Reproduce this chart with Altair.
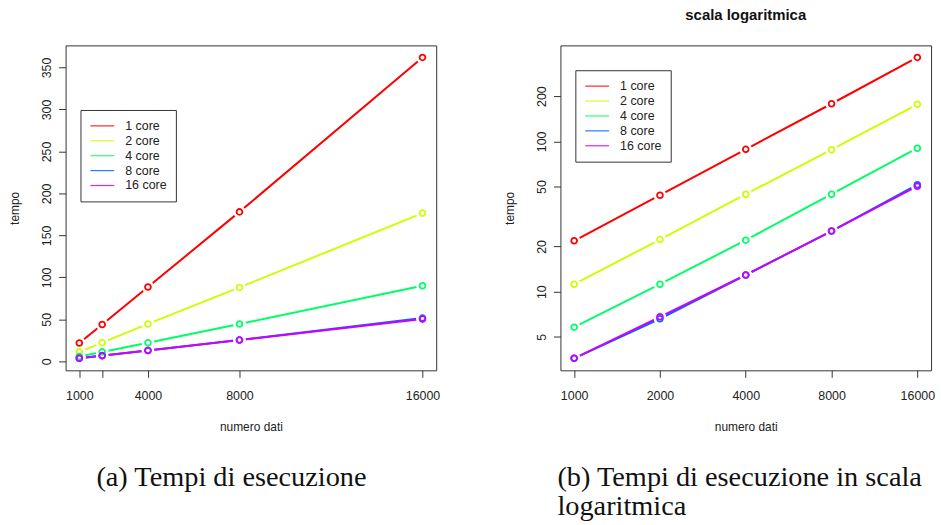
import math
import altair as alt
import pandas as pd

# ---- data ----
series = ["1 core", "2 core", "4 core", "8 core", "16 core"]
colors = ["#FF0000", "#CCFF00", "#00FF66", "#0066FF", "#CC00FF"]
n_dati = [1000, 2000, 4000, 8000, 16000]
t_1core = [21.8, 43.8, 88.5, 178.0, 362.0]
t_2core = [11.2, 22.2, 44.5, 88.0, 176.5]
t_4core = [5.8, 11.2, 22.0, 44.5, 90.0]
t_8core = [3.6, 6.6, 12.9, 25.3, 51.5]
t_16core = [3.6, 6.8, 12.9, 25.3, 50.3]

x_ticks = [1000, 2000, 4000, 8000, 16000]
y_ticks_lin = [0, 50, 100, 150, 200, 250, 300, 350]
y_ticks_log = [5, 10, 20, 50, 100, 200]

caption_a = "(a) Tempi di esecuzione"
caption_b = ["(b) Tempi di esecuzione in scala", "logaritmica"]
title_b = "scala logaritmica"

rows = []
for s, vals in zip(series, [t_1core, t_2core, t_4core, t_8core, t_16core]):
    for n, t in zip(n_dati, vals):
        rows.append({"serie": s, "n": n, "t": t})
df = pd.DataFrame(rows)

# R-style 4% range extension
def ext_lin(vmin, vmax):
    d = (vmax - vmin) * 0.04
    return [vmin - d, vmax + d]

def ext_log(vmin, vmax):
    a, b = math.log10(vmin), math.log10(vmax)
    d = (b - a) * 0.04
    return [10 ** (a - d), 10 ** (b + d)]

xmin, xmax = min(n_dati), max(n_dati)
ymin, ymax = df["t"].min(), df["t"].max()

FONT = "Liberation Sans"
W, H = 373, 327
GAP = 125


def panel(log, ytick_vals, legend_y, caption, cap_dx, x_label_expr):
    stype = "log" if log else "linear"
    xdom = ext_log(xmin, xmax) if log else ext_lin(xmin, xmax)
    ydom = ext_log(ymin, ymax) if log else ext_lin(ymin, ymax)
    x_enc = alt.X(
        "n:Q",
        scale=alt.Scale(type=stype, domain=xdom, nice=False, zero=False),
        axis=alt.Axis(values=x_ticks, title="numero dati", format="d",
                      labelExpr=x_label_expr, labelOverlap=False, labelFlush=False,
                      labelPadding=12, titlePadding=20),
    )
    y_enc = alt.Y(
        "t:Q",
        scale=alt.Scale(type=stype, domain=ydom, nice=False, zero=False),
        axis=alt.Axis(values=ytick_vals, title="tempo", format="d",
                      labelAngle=270, labelAlign="center", labelBaseline="bottom",
                      labelOverlap=False, labelFlush=False,
                      labelPadding=5, titlePadding=19),
    )
    color = alt.Color(
        "serie:N",
        scale=alt.Scale(domain=series, range=colors),
        legend=alt.Legend(
            orient="none", legendX=15, legendY=legend_y, title=None,
            symbolType="M-1,0L3,0", symbolSize=144, symbolStrokeWidth=1.2,
            labelFont=FONT, labelFontSize=12.5, labelColor="#222",
            labelOffset=22, strokeColor="#333", fillColor="white",
            padding=9, rowPadding=1, symbolOpacity=0.85,
        ),
    )
    base = alt.Chart(df)
    lines = base.mark_line(strokeWidth=2, clip=True).encode(
        x=x_enc, y=y_enc, color=color, order="n:Q")
    halo = base.mark_circle(color="white", opacity=1, size=160).encode(
        x=x_enc, y=y_enc)
    pts = base.mark_point(shape="circle", filled=False, size=34,
                          strokeWidth=1.8, opacity=1).encode(
        x=x_enc, y=y_enc, color=color)
    return alt.layer(lines, halo, pts).properties(
        width=W, height=H,
        title=alt.TitleParams(
            caption, orient="bottom", anchor="start", frame="group",
            dx=cap_dx, offset=31, font="Liberation Serif", fontSize=28.5,
            fontWeight="normal", color="#111", lineHeight=29,
        ),
    )


left = panel(False, y_ticks_lin, 65, caption_a, 31,
             "datum.value == 2000 ? '' : datum.label")
right = panel(True, y_ticks_log, 25, caption_b, -3, "datum.label")

chart = (
    alt.hconcat(left, right, spacing=GAP, bounds="flush")
    .properties(
        title=alt.TitleParams(
            title_b, anchor="start", align="center", frame="group",
            dx=W + GAP + W / 2, offset=22,
            font=FONT, fontSize=15, fontWeight="bold", color="#111",
        ),
        padding={"left": 8, "top": 6, "right": 5, "bottom": 5},
        background="white",
    )
    .resolve_scale(color="independent")
    .resolve_legend(color="independent")
    .configure_view(stroke="#333", strokeWidth=1)
    .configure_axis(
        domain=False, grid=False, tickColor="#333", tickSize=7, tickWidth=1,
        labelFont=FONT, labelFontSize=12.5, labelColor="#222",
        titleFont=FONT, titleFontSize=12, titleFontWeight="normal", titleColor="#222",
    )
)

chart.save("out.html", embed_options={"renderer": "svg", "actions": False})
